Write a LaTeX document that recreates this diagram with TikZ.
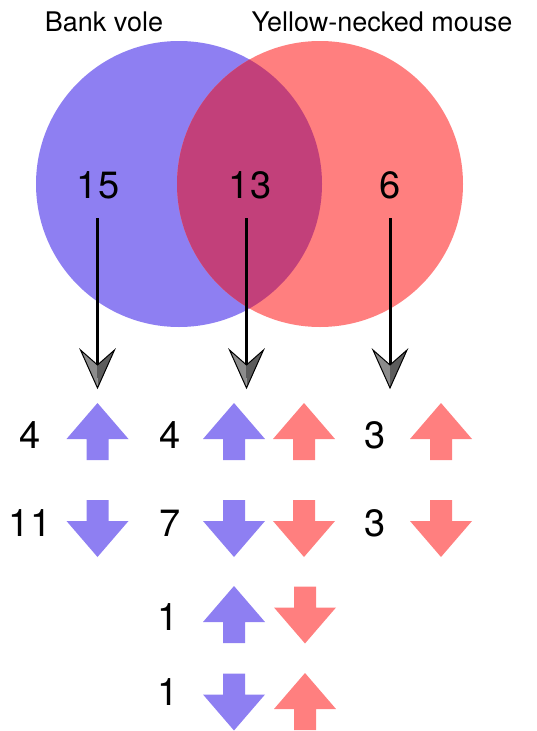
\documentclass[tikz,border=0pt]{standalone}
\usepackage{fontspec}
\setmainfont{TeX Gyre Heros}
\definecolor{blueC}{HTML}{8E7FF2}
\definecolor{redC}{HTML}{FF7F7F}
\definecolor{overC}{HTML}{C2407A}
\definecolor{headL}{HTML}{8C8C8C}
\definecolor{headR}{HTML}{5C5C5C}
\tikzset{
  num/.style={inner sep=0pt, font=\fontsize{38}{40}\selectfont},
  lbl/.style={inner sep=0pt, font=\fontsize{27}{30}\selectfont},
  shaft/.style={line width=3pt, black},
  uparrow/.pic={\path[pic actions] (0,-28.5) -- (31,7.5) -- (11,7.5) -- (11,28.5) -- (-11,28.5) -- (-11,7.5) -- (-31,7.5) -- cycle;},
  dnarrow/.pic={\path[pic actions] (0,28.5) -- (31,-7.5) -- (11,-7.5) -- (11,-28.5) -- (-11,-28.5) -- (-11,-7.5) -- (-31,-7.5) -- cycle;},
  ghead/.pic={
    \fill[headL] (0,0) -- (-17,-38) -- (0,-23) -- cycle;
    \fill[headR] (0,0) -- (0,-23) -- (17,-38) -- cycle;
    \draw[black, line width=1pt, line join=miter] (0,0) -- (-17,-38) -- (0,-23) -- (17,-38) -- cycle;
  }
}
\begin{document}
\begin{tikzpicture}[x=1pt, y=-1pt]
\useasboundingbox (0,0) rectangle (537,731);
% circles
\fill[blueC] (179,184) circle (143pt);
\fill[redC] (320,184) circle (143pt);
\begin{scope}
  \clip (179,184) circle (143pt);
  \fill[overC] (320,184) circle (143pt);
\end{scope}
% labels
\node[lbl] (bv) at (104,22) {Bank vole};
\node[lbl] (ym) at (382,22) {Yellow-necked mouse};
% counts
\node[num] (n15) at (98,185) {15};
\node[num] (n13) at (250,185) {13};
\node[num] (n6) at (390,185) {6};
% arrow tips
\coordinate (t1) at (97.5,388);
\coordinate (t2) at (246.5,388);
\coordinate (t3) at (390,388);
\coordinate (s1) at (97.5,218);
\coordinate (s2) at (246.5,218);
\coordinate (s3) at (390,218);
\draw[shaft] (s1) -- ([yshift=10pt]t1);
\draw[shaft] (s2) -- ([yshift=10pt]t2);
\draw[shaft] (s3) -- ([yshift=10pt]t3);
\pic (h1) at (t1) {ghead};
\pic (h2) at (t2) {ghead};
\pic (h3) at (t3) {ghead};
% row 1
\node[num] (r1a) at (30,435) {4};
\pic[fill=blueC] (u1a) at (97.5,431.5) {uparrow};
\node[num] (r1b) at (170,435) {4};
\pic[fill=blueC] (u1b) at (234,431.5) {uparrow};
\pic[fill=redC] (u1c) at (304,431.5) {uparrow};
\node[num] (r1c) at (375,435) {3};
\pic[fill=redC] (u1d) at (441,431.5) {uparrow};
% row 2
\node[num] (r2a) at (30,523) {11};
\pic[fill=blueC] (d2a) at (97.5,528.5) {dnarrow};
\node[num] (r2b) at (170,523) {7};
\pic[fill=blueC] (d2b) at (234,528.5) {dnarrow};
\pic[fill=redC] (d2c) at (304,528.5) {dnarrow};
\node[num] (r2c) at (375,523) {3};
\pic[fill=redC] (d2d) at (441,528.5) {dnarrow};
% row 3
\node[num] (r3) at (168,617) {1};
\pic[fill=blueC] (u3a) at (234,614.5) {uparrow};
\pic[fill=redC] (d3b) at (305,615) {dnarrow};
% row 4
\node[num] (r4) at (168,692) {1};
\pic[fill=blueC] (d4a) at (234,702) {dnarrow};
\pic[fill=redC] (u4b) at (305,701.5) {uparrow};
\end{tikzpicture}
\end{document}
